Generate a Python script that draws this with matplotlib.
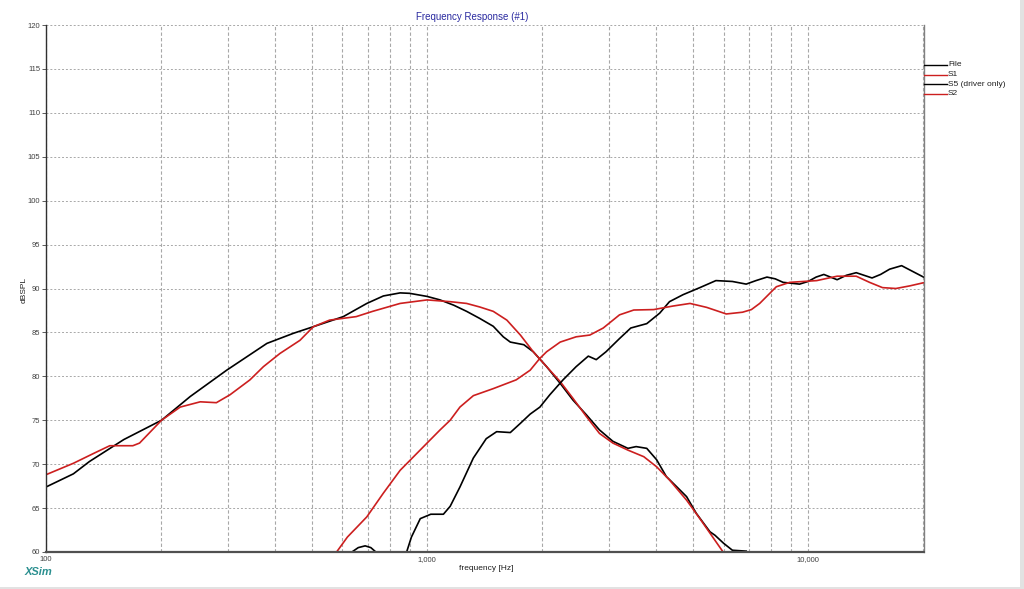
import matplotlib
matplotlib.use("Agg")
import matplotlib.pyplot as plt
from matplotlib.patches import Rectangle
from matplotlib.lines import Line2D

# ---- data ----
file_f = [100, 118, 130, 160, 201, 239, 298, 380, 446, 503, 603, 695, 768, 850, 900,
          1000, 1082, 1175, 1270, 1374, 1492, 1585, 1654, 1795, 1900, 2060, 2236, 2415,
          2622, 2835, 3075, 3367, 3538, 3773, 4005, 4245, 4528, 4800, 5090, 5528, 5700,
          6000, 6330, 6880]
file_db = [67.4, 68.9, 70.3, 72.8, 75.0, 77.7, 80.7, 83.75, 84.9, 85.65, 86.8, 88.3, 89.15, 89.5, 89.45,
           89.1, 88.7, 88.1, 87.4, 86.6, 85.7, 84.5, 83.9, 83.6, 82.8, 81.1, 79.2, 77.3,
           75.6, 73.9, 72.6, 71.8, 72.0, 71.8, 70.5, 68.6, 67.4, 66.3, 64.4, 62.3, 61.9,
           61.0, 60.2, 60.1]

s1_f = [100, 118, 133, 147, 169, 176, 201, 225, 254, 280, 304, 343, 372, 411, 464, 503,
        555, 652, 720, 850, 1000, 1150, 1270, 1374, 1492, 1620, 1758, 1900, 2060, 2236,
        2415, 2622, 2835, 3075, 3367, 3706, 4005, 4328, 4800, 5200, 5620, 5985]
s1_db = [68.8, 70.1, 71.2, 72.1, 72.1, 72.4, 75.0, 76.5, 77.1, 77.0, 77.9, 79.6, 81.1, 82.6, 84.1, 85.65,
         86.4, 86.8, 87.4, 88.3, 88.7, 88.5, 88.3, 87.9, 87.4, 86.4, 84.7, 82.8, 81.1, 79.4,
         77.5, 75.4, 73.5, 72.4, 71.6, 70.85, 69.7, 68.2, 65.9, 63.8, 61.7, 60.0]

s5_f = [560, 600, 635, 660, 688, 712, 734, 790, 850, 884, 910, 960, 1023, 1104, 1150, 1220,
        1323, 1430, 1523, 1654, 1758, 1865, 1978, 2100, 2275, 2462, 2650, 2780, 2950,
        3200, 3425, 3773, 4081, 4328, 4700, 5200, 5730, 6330, 6880, 7300, 7800, 8200,
        8600, 9500, 10000, 10500, 11000, 11920, 12600, 13380, 14720, 15500, 16370,
        17600, 18900, 20300]
s5_db = [57.5, 58.8, 60.0, 60.5, 60.7, 60.5, 60.0, 58.6, 58.8, 60.0, 61.7, 63.8, 64.3, 64.3, 65.2, 67.4,
         70.7, 72.9, 73.7, 73.6, 74.65, 75.7, 76.5, 77.9, 79.6, 81.1, 82.3, 81.9, 82.8,
         84.3, 85.5, 86.0, 87.2, 88.5, 89.3, 90.1, 90.9, 90.8, 90.5, 90.9, 91.3, 91.1,
         90.7, 90.5, 90.8, 91.3, 91.6, 91.0, 91.5, 91.8, 91.2, 91.6, 92.2,
         92.6, 91.9, 91.2]

s2_f = [579, 618, 695, 768, 850, 922, 1000, 1082, 1150, 1220, 1323, 1492, 1714, 1865, 1978,
        2060, 2236, 2462, 2675, 2900, 3200, 3488, 3935, 4416, 4900, 5420, 6100, 6730,
        7100, 7466, 8256, 8950, 10540, 11920, 13380, 14500, 15680, 17000, 18500, 20300]
s2_db = [60.0, 61.7, 64.0, 66.7, 69.3, 70.85, 72.4, 73.9, 75.0, 76.5, 77.8, 78.6, 79.6, 80.7, 82.05,
         82.8, 83.9, 84.5, 84.7, 85.5, 87.0, 87.55, 87.6, 88.0, 88.3, 87.85, 87.1, 87.3,
         87.6, 88.3, 90.2, 90.7, 90.9, 91.4, 91.4, 90.7, 90.1, 90.0, 90.3, 90.7]

series_names = ["File", "S1", "S5 (driver only)", "S2"]
title = "Frequency Response (#1)"
x_ticks = [100, 1000, 10000]
x_tick_labels = ["100", "1,000", "10,000"]
y_ticks = [60, 65, 70, 75, 80, 85, 90, 95, 100, 105, 110, 115, 120]

# ---- figure ----
W, H = 1024, 589
fig = plt.figure(figsize=(W / 100, H / 100), dpi=100)
fig.patch.set_facecolor("white")
fig.patches.append(Rectangle((0, 0), 1, 2.5 / H, transform=fig.transFigure,
                             facecolor="#e2e2e2", edgecolor="none", zorder=0))
fig.patches.append(Rectangle((1020 / W, 0), 4 / W, 1, transform=fig.transFigure,
                             facecolor="#e2e2e2", edgecolor="none", zorder=0))

left, right, top, bottom = 46, 924, 25, 552
ax = fig.add_axes([left / W, (H - bottom) / H, (right - left) / W, (bottom - top) / H])
ax.set_xscale("log")
ax.set_xlim(100, 20150)
ax.set_ylim(60, 120)

black = "#000000"
red = "#cc1f1f"
lw = 1.2
ax.plot(file_f, file_db, color=black, lw=lw)
ax.plot(s1_f, s1_db, color=red, lw=lw)
ax.plot(s5_f, s5_db, color=black, lw=lw)
ax.plot(s2_f, s2_db, color=red, lw=lw)

ax.set_xticks(x_ticks)
ax.set_xticklabels(x_tick_labels)
ax.xaxis.set_minor_locator(matplotlib.ticker.LogLocator(base=10, subs=range(2, 10)))
ax.xaxis.set_minor_formatter(matplotlib.ticker.NullFormatter())
ax.set_yticks(y_ticks)
ax.grid(True, which="both", axis="x", color="#a8a8a8", linestyle=(0, (3, 2)), lw=0.8)
ax.grid(True, which="major", axis="y", color="#a8a8a8", linestyle=(0, (2, 2)), lw=0.7)
ax.set_axisbelow(True)
ax.tick_params(axis="both", which="both", length=3, width=0.6, colors="#404040",
               labelsize=5.5, pad=1)
ax.tick_params(axis="x", which="minor", length=0)
ax.tick_params(axis="x", which="major", length=0, pad=3)

ax.spines["top"].set_visible(False)
ax.spines["left"].set_color("#303030")
ax.spines["left"].set_linewidth(1.0)
ax.spines["bottom"].set_color("#505050")
ax.spines["bottom"].set_linewidth(1.6)
ax.spines["bottom"].set_linestyle((0, (1, 1)))
ax.spines["right"].set_color("#808080")
ax.spines["right"].set_linewidth(1.0)

fig.text(472 / W, 1 - 17 / H, title, color="#2a2aa0", fontsize=7,
         ha="center", va="center", family="Liberation Sans")
fig.text(459 / W, 1 - 568 / H, "frequency [Hz]", color="#202020", fontsize=6,
         ha="left", va="center", family="Liberation Sans")
fig.text(24 / W, 1 - 290 / H, "dBSPL", color="#202020", fontsize=6, rotation=90,
         ha="center", va="center", family="Liberation Sans")
fig.text(25 / W, 1 - 572 / H, "XSim", color="#2a8f8f", fontsize=8, style="italic",
         weight="bold", ha="left", va="center", family="Liberation Sans")
for lbl in ax.get_xticklabels() + ax.get_yticklabels():
    lbl.set_family("Liberation Sans")

leg_y = [65, 74.5, 84, 93.5]
for name, color, yy in zip(series_names, [black, red, black, red], leg_y):
    fig.add_artist(Line2D([924 / W, 947 / W], [1 - yy / H, 1 - yy / H],
                          transform=fig.transFigure, color=color, lw=1.0))
    fig.text(948 / W, 1 - yy / H, name, fontsize=6, color="#202020", ha="left",
             va="center", family="Liberation Sans")

fig.savefig("out.png", dpi=100)
